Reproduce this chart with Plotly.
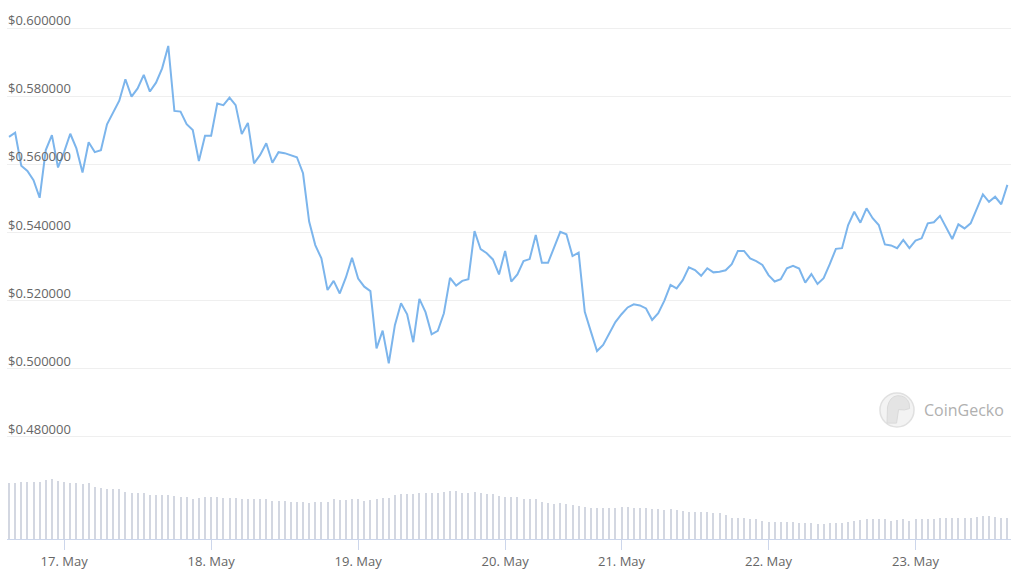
import plotly.graph_objects as go

# Hourly price (USD), ordinal sequence from 16 May 15:00 to 23 May ~14:00
price = [
    0.5681, 0.5693, 0.5596, 0.5581, 0.5554, 0.5502, 0.5642, 0.5686, 0.5591, 0.5637,
    0.5690, 0.5647, 0.5576, 0.5665, 0.5636, 0.5642, 0.5718, 0.5755, 0.5787, 0.5850,
    0.5799, 0.5823, 0.5863, 0.5814, 0.5840, 0.5882, 0.5948, 0.5757, 0.5755, 0.5718,
    0.5701, 0.5610, 0.5684, 0.5684, 0.5779, 0.5774, 0.5796, 0.5774, 0.5689, 0.5722,
    0.5603, 0.5628, 0.5662, 0.5605, 0.5636, 0.5633, 0.5627, 0.5621, 0.5574, 0.5432,
    0.5363, 0.5324, 0.5231, 0.5258, 0.5221, 0.5268, 0.5326, 0.5265, 0.5241, 0.5228,
    0.5060, 0.5112, 0.5016, 0.5128, 0.5192, 0.5160, 0.5078, 0.5205, 0.5166, 0.5101,
    0.5111, 0.5163, 0.5267, 0.5244, 0.5258, 0.5263, 0.5404, 0.5351, 0.5339, 0.5321,
    0.5277, 0.5346, 0.5256, 0.5277, 0.5316, 0.5322, 0.5393, 0.5311, 0.5311, 0.5358,
    0.5402, 0.5395, 0.5331, 0.5341, 0.5167, 0.5109, 0.5052, 0.5070, 0.5102, 0.5137,
    0.5160, 0.5180, 0.5189, 0.5186, 0.5177, 0.5143, 0.5163, 0.5200, 0.5246, 0.5236,
    0.5260, 0.5298, 0.5290, 0.5273, 0.5295, 0.5283, 0.5285, 0.5289, 0.5307, 0.5346,
    0.5346, 0.5324, 0.5316, 0.5305, 0.5275, 0.5256, 0.5263, 0.5295, 0.5302, 0.5294,
    0.5253, 0.5278, 0.5249, 0.5266, 0.5307, 0.5352, 0.5354, 0.5422, 0.5461, 0.5429,
    0.5471, 0.5442, 0.5422, 0.5365, 0.5362, 0.5354, 0.5378, 0.5354, 0.5376, 0.5383,
    0.5427, 0.5430, 0.5449, 0.5417, 0.5381, 0.5424, 0.5412, 0.5427, 0.5468, 0.5512,
    0.5490, 0.5505, 0.5483, 0.5540,
]

# Hourly volume (relative units)
volume = [
    167, 169, 171, 171, 171, 171, 178, 179, 175, 171, 168, 168, 164, 168, 157, 153,
    149, 149, 149, 140, 138, 138, 138, 133, 131, 131, 131, 128, 126, 125, 121, 124,
    126, 126, 125, 123, 123, 123, 120, 120, 120, 120, 120, 115, 115, 115, 112, 111,
    111, 108, 111, 112, 112, 119, 118, 116, 119, 119, 115, 116, 119, 122, 124, 132,
    134, 135, 135, 139, 139, 139, 139, 142, 145, 145, 139, 139, 142, 139, 136, 135,
    130, 127,
    125, 127, 120, 119, 119, 112, 107, 104, 108, 104, 101, 99, 95, 93, 93, 93,
    93, 93, 96, 95, 93, 93, 93, 90, 89, 86, 89, 86, 85, 82, 82, 82,
    82, 79, 77, 73, 64, 64, 62, 60, 59, 55, 52, 52, 52, 52, 50, 48,
    48, 48, 45, 45, 47, 49, 49, 52, 55, 57, 59, 59, 59, 59, 55, 57,
    60, 55, 59, 59, 60, 60, 63, 63, 63, 63, 63, 63, 65, 68, 69, 67,
    64, 64,
]

# Day labels and the index of the hourly point at each midnight
day_labels = ["17. May", "18. May", "19. May", "20. May", "21. May", "22. May", "23. May"]
day_index = [9, 33, 57, 81, 100, 124, 148]

price_ticks = [0.48, 0.50, 0.52, 0.54, 0.56, 0.58, 0.60]
price_tick_text = ["$%.6f" % v for v in price_ticks]

idx = list(range(len(price)))

FONT = "Open Sans"
LABEL = "#666666"

fig = go.Figure()
fig.add_trace(go.Bar(
    x=idx, y=volume, yaxis="y2", width=0.33,
    marker=dict(color="#d3d7e1", line=dict(width=0)),
    hoverinfo="skip", showlegend=False,
))
fig.add_trace(go.Scatter(
    x=idx, y=price, mode="lines",
    line=dict(color="#7cb5ec", width=2),
    showlegend=False,
))

# y-axis labels sit inside the plot, just above each gridline
for v, t in zip(price_ticks, price_tick_text):
    fig.add_annotation(
        xref="paper", yref="y", x=0, y=v,
        xanchor="left", yanchor="middle", yshift=8, xshift=-1,
        showarrow=False, text=t,
        font=dict(family=FONT, size=13, color=LABEL),
    )

# CoinGecko watermark
fig.add_shape(
    type="circle", xref="paper", yref="paper",
    x0=0.8695, x1=0.9034, y0=0.2078, y1=0.2709,
    fillcolor="#f3f3f3", line=dict(color="#e0e0e0", width=1.5),
)
fig.add_shape(
    type="path", xref="paper", yref="paper",
    path="M 0.8765 0.2150 L 0.8770 0.2450 Q 0.8790 0.2640 0.8870 0.2660 "
         "Q 0.8960 0.2660 0.8985 0.2520 L 0.8990 0.2420 Q 0.8940 0.2380 0.8880 0.2400 "
         "L 0.8860 0.2150 Z",
    fillcolor="#e4e4e4", line=dict(color="#dadada", width=1),
)
fig.add_annotation(
    xref="paper", yref="paper", x=0.9114, y=0.2393,
    xanchor="left", yanchor="middle", showarrow=False,
    text="CoinGecko", font=dict(family=FONT, size=16, color="#b0b0b0"),
)

fig.update_layout(
    width=1024, height=577,
    margin=dict(l=7, r=13, t=0, b=38),
    paper_bgcolor="white", plot_bgcolor="white",
    bargap=0,
    xaxis=dict(
        range=[-0.33, 163.59],
        tickvals=day_index, ticktext=day_labels,
        ticks="outside", ticklen=10, tickcolor="#ccd6eb", tickwidth=1,
        showline=True, linecolor="#ccd6eb", linewidth=1,
        showgrid=False, zeroline=False,
        tickfont=dict(family=FONT, size=13, color=LABEL),
    ),
    yaxis=dict(
        range=[0.45, 0.60828],
        tickvals=price_ticks, showticklabels=False,
        showgrid=True, gridcolor="#efefef", gridwidth=1,
        zeroline=False, showline=False, ticks="",
    ),
    yaxis2=dict(
        overlaying="y", range=[0, 1617], visible=False,
    ),
)

fig.write_html("out.html")
